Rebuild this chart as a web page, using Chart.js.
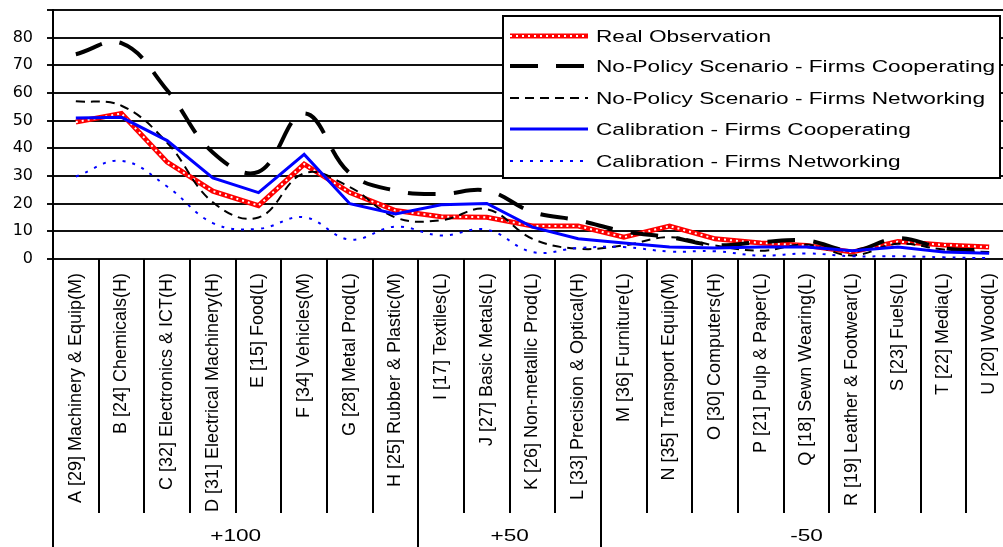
<!DOCTYPE html>
<html>
<head>
<meta charset="utf-8">
<script src="https://cdn.jsdelivr.net/npm/chart.js@4.4.1/dist/chart.umd.min.js"></script>
<style>
html, body { margin: 0; padding: 0; background: #fff; overflow: hidden; }
#wrap { width: 1012px; height: 547px; }
</style>
</head>
<body>
<div id="wrap"><canvas id="chart" width="1012" height="547"></canvas></div>
<script>
// sectors on the x axis
var sectors = [
  "A [29] Machinery & Equip(M)", "B [24] Chemicals(H)", "C [32] Electronics & ICT(H)",
  "D [31] Electrical Machinery(H)", "E [15] Food(L)", "F [34] Vehicles(M)",
  "G [28] Metal Prod(L)", "H [25] Rubber & Plastic(M)", "I [17] Textiles(L)",
  "J [27] Basic Metals(L)", "K [26] Non-metallic Prod(L)", "L [33] Precision & Optical(H)",
  "M [36] Furniture(L)", "N [35] Transport Equip(M)", "O [30] Computers(H)",
  "P [21] Pulp & Paper(L)", "Q [18] Sewn Wearing(L)", "R [19] Leather & Footwear(L)",
  "S [23] Fuels(L)", "T [22] Media(L)", "U [20] Wood(L)"
];
var groups = ["+100", "+50", "-50"];
var groupSizes = [8, 4, 9];
var yTicks = [0, 10, 20, 30, 40, 50, 60, 70, 80, 90];

// series values
var realObs   = [49.5, 52.6, 35, 24.5, 19.3, 34.3, 24, 17.5, 15.3, 15.1, 11.9, 11.9, 7.9, 11.9, 7.3, 5.8, 4.9, 2.5, 6.3, 5.1, 4.3];
var npCoop    = [74, 78, 61, 38.5, 31.5, 52.6, 31, 24.7, 23.5, 24.7, 17, 14, 10, 7.9, 5, 6.1, 6.7, 3, 7.5, 3.9, 3.1];
var npNet     = [57, 55.4, 42, 20.5, 15, 31, 26, 15, 14, 18, 7.3, 3.7, 4.9, 7.9, 4.9, 3, 5.2, 1.3, 5.5, 3.4, 2.5];
var calibCoop = [51, 51.2, 42.8, 29.3, 24, 37.8, 20, 16.3, 19.6, 20.1, 11.5, 7.3, 5.8, 4.3, 4, 4.3, 4.3, 3, 4.3, 2.5, 2.1];
var calibNet  = [29.8, 35.5, 26.2, 13, 10.9, 15.1, 7, 11.7, 8.5, 10.6, 2.5, 4, 4.3, 2.7, 2.8, 1.2, 2, 1, 1, 0.6, 0.3];

var textFont = "16.8px 'Liberation Sans', Arial";
var stretch = 1.35; // text in the picture is wider than it is tall

function wideText(ctx, str, x, y, align) {
  ctx.save();
  ctx.font = textFont;
  var w = ctx.measureText(str).width * stretch;
  var left = align === "center" ? x - w / 2 : x;
  ctx.translate(left, y);
  ctx.scale(stretch, 1);
  ctx.textAlign = "left";
  ctx.textBaseline = "middle";
  ctx.fillStyle = "#000";
  ctx.fillText(str, 0, 0);
  ctx.restore();
}

// draws the little boxes under the axis and the group row
var groupAxis = {
  id: "groupAxis",
  afterDraw: function(chart) {
    var ctx = chart.ctx, a = chart.chartArea, xs = chart.scales.x;
    var step = (a.right - a.left) / sectors.length;
    var rowBottom = a.bottom + 254;
    ctx.save();
    ctx.strokeStyle = "#000";
    ctx.lineWidth = 2;
    ctx.beginPath();
    for (var k = 1; k < sectors.length; k++) {
      var bx = Math.round(xs.getPixelForValue(k) - step / 2);
      ctx.moveTo(bx, a.bottom);
      ctx.lineTo(bx, rowBottom);
    }
    ctx.moveTo(Math.round(a.left), a.bottom);
    ctx.lineTo(Math.round(a.left), chart.height);
    var start = 0;
    for (var g = 0; g < groups.length; g++) {
      var x0 = a.left + start * step;
      var x1 = a.left + (start + groupSizes[g]) * step;
      ctx.moveTo(Math.round(x1), a.bottom);
      ctx.lineTo(Math.round(x1), chart.height);
      wideText(ctx, groups[g], (x0 + x1) / 2, rowBottom + 23, "center");
      start += groupSizes[g];
    }
    ctx.stroke();
    ctx.restore();
  }
};

// legend box sitting inside the plot
var boxLegend = {
  id: "boxLegend",
  afterDraw: function(chart) {
    var ctx = chart.ctx;
    ctx.save();
    ctx.fillStyle = "#fff";
    ctx.fillRect(503, 16, 497, 162);
    ctx.strokeStyle = "#000";
    ctx.lineWidth = 2;
    ctx.strokeRect(503, 16, 497, 162);
    var rows = [36, 66, 98, 129, 161];
    var items = chart.data.datasets.filter(function(d) { return d.legendRow !== undefined; });
    items.forEach(function(d) {
      var y = rows[d.legendRow];
      ctx.beginPath();
      ctx.setLineDash(d.borderDash || []);
      ctx.lineWidth = d.borderWidth;
      ctx.strokeStyle = d.borderColor;
      ctx.moveTo(510, y);
      ctx.lineTo(588, y);
      ctx.stroke();
      if (d.label === "Real Observation") {
        ctx.beginPath();
        ctx.setLineDash([2, 4]);
        ctx.lineWidth = 2;
        ctx.strokeStyle = "#fff";
        ctx.moveTo(510, y);
        ctx.lineTo(588, y);
        ctx.stroke();
      }
      ctx.setLineDash([]);
      wideText(ctx, d.label, 596, y + 1, "left");
    });
    ctx.restore();
  }
};

var config = {
  type: "line",
  data: {
    labels: sectors,
    datasets: [
      { label: "Calibration - Firms Networking", data: calibNet, borderColor: "#0000ff", borderWidth: 2,
        borderDash: [3, 7], tension: 0.4, order: 0, legendRow: 4 },
      { label: "Calibration - Firms Cooperating", data: calibCoop, borderColor: "#0000ff", borderWidth: 3,
        tension: 0, order: 1, legendRow: 3 },
      { label: "No-Policy Scenario - Firms Networking", data: npNet, borderColor: "#000", borderWidth: 2,
        borderDash: [9, 6], tension: 0.4, order: 2, legendRow: 2 },
      { label: "No-Policy Scenario - Firms Cooperating", data: npCoop, borderColor: "#000", borderWidth: 4,
        borderDash: [28, 18], tension: 0.4, order: 3, legendRow: 1 },
      { label: "holes", data: realObs, borderColor: "#fff", borderWidth: 2,
        borderDash: [2, 4], tension: 0, order: 4 },
      { label: "Real Observation", data: realObs, borderColor: "#ff0000", borderWidth: 5,
        tension: 0, order: 5, legendRow: 0 }
    ]
  },
  options: {
    responsive: false,
    animation: false,
    devicePixelRatio: 1,
    layout: { padding: { top: 10, bottom: 34, left: 0, right: 0 } },
    elements: { point: { radius: 0 } },
    plugins: { legend: { display: false }, tooltip: { enabled: false } },
    scales: {
      x: {
        offset: true,
        grid: { display: false },
        border: { display: false },
        afterFit: function(s) { s.height = 254; s.paddingLeft = 0; s.paddingRight = 0; },
        ticks: {
          autoSkip: false, maxRotation: 90, minRotation: 90, padding: 6,
          color: "#000",
          font: { family: "'Liberation Sans', Arial", size: 18 }
        }
      },
      y: {
        min: 0, max: 90,
        afterFit: function(s) { s.width = 53; s.paddingTop = 0; s.paddingBottom = 0; },
        afterBuildTicks: function(s) { s.ticks = yTicks.map(function(v) { return { value: v }; }); },
        grid: { color: "#111", lineWidth: 2, tickLength: 6 },
        border: { color: "#000", width: 2 },
        ticks: {
          color: "#000", padding: 14,
          font: { family: "'DejaVu Sans'", size: 16 },
          callback: function(v) { return v === 90 ? "" : v; }
        }
      }
    }
  },
  plugins: [groupAxis, boxLegend]
};

var chart = new Chart(document.getElementById("chart"), config);
</script>
</body>
</html>
